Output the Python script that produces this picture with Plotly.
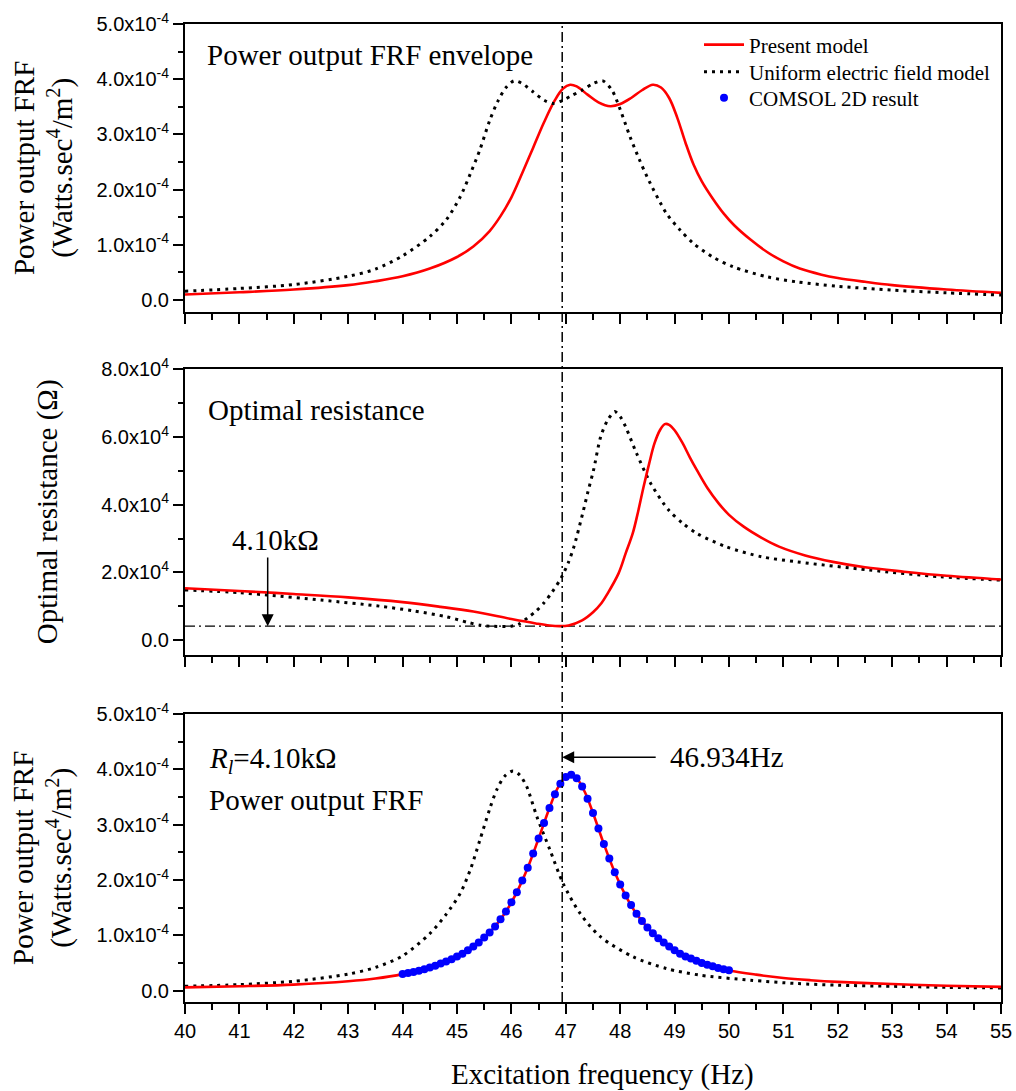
import plotly.graph_objects as go

# ---------------- data ----------------
# Top panel: power output FRF envelope, values in units of 1e-4 W.s^4/m^2
env_present_f = [40, 41, 42, 43, 43.5, 44, 44.5, 45, 45.3, 45.6, 45.8, 46.0, 46.2, 46.4, 46.6, 46.8, 46.95,
                 47.08, 47.2, 47.4, 47.6, 47.82, 48.0, 48.2, 48.4, 48.6, 48.75, 48.9, 49.05, 49.2, 49.35,
                 49.5, 49.7, 49.9, 50.1, 50.4, 50.7, 51.0, 51.3, 51.7, 52, 52.5, 53, 54, 55]
env_present_p = [0.10, 0.14, 0.19, 0.27, 0.34, 0.43, 0.57, 0.78, 0.97, 1.25, 1.52, 1.86, 2.30, 2.76, 3.22, 3.62, 3.83,
                 3.90, 3.87, 3.72, 3.58, 3.51, 3.55, 3.66, 3.80, 3.90, 3.85, 3.66, 3.30, 2.85, 2.45,
                 2.15, 1.84, 1.57, 1.35, 1.09, 0.87, 0.70, 0.57, 0.46, 0.40, 0.33, 0.27, 0.19, 0.13]
env_uniform_f = [40, 41, 42, 43, 43.5, 44, 44.5, 44.8, 45.06, 45.25, 45.42, 45.6, 45.75, 45.9, 46.05, 46.2,
                 46.4, 46.6, 46.77, 46.95, 47.1, 47.3, 47.5, 47.68, 47.85, 48.0, 48.18, 48.35, 48.5, 48.85,
                 49.1, 49.34, 49.7, 50.08, 50.7, 51.24, 52, 53, 54, 55]
env_uniform_p = [0.16, 0.21, 0.28, 0.43, 0.56, 0.80, 1.15, 1.45, 1.87, 2.30, 2.72, 3.25, 3.60, 3.85, 3.97, 3.92,
                 3.77, 3.62, 3.56, 3.62, 3.70, 3.80, 3.92, 3.97, 3.80, 3.45, 2.96, 2.55, 2.22, 1.57,
                 1.27, 1.03, 0.78, 0.60, 0.42, 0.33, 0.25, 0.18, 0.13, 0.09]

# Middle panel: optimal resistance (Ohm), values in units of 1e4 Ohm
ropt_present_f = [40, 41, 42, 43, 44, 44.7, 45.3, 46.0, 46.45, 46.7, 46.89, 47.05, 47.3, 47.5, 47.65, 47.77,
                  47.97, 48.1, 48.23, 48.33, 48.43, 48.53, 48.63, 48.73, 48.82, 48.9, 49.0, 49.15, 49.28,
                  49.41, 49.6, 49.81, 50.0, 50.27, 50.6, 50.92, 51.4, 51.91, 52.5, 53.22, 54, 55]
ropt_present_r = [1.53, 1.45, 1.36, 1.26, 1.12, 0.98, 0.84, 0.62, 0.49, 0.43, 0.41, 0.43, 0.58, 0.82, 1.08, 1.38,
                  1.97, 2.56, 3.15, 3.80, 4.53, 5.20, 5.81, 6.20, 6.38, 6.36, 6.20, 5.81, 5.40,
                  5.02, 4.50, 4.04, 3.70, 3.35, 3.02, 2.76, 2.50, 2.31, 2.15, 2.02, 1.90, 1.79]
ropt_uniform_f = [40, 41, 41.5, 42.5, 43.58, 44.2, 44.8, 45.2, 45.42, 45.6, 46.0, 46.15, 46.3, 46.45, 46.6,
                  46.75, 46.92, 47.05, 47.15, 47.31, 47.41, 47.51, 47.64, 47.77, 47.9, 48.0, 48.1, 48.3,
                  48.56, 48.89, 49.15, 49.41, 49.94, 50.6, 51.25, 52.57, 53.88, 55]
ropt_uniform_r = [1.48, 1.40, 1.33, 1.18, 1.00, 0.86, 0.69, 0.52, 0.44, 0.41, 0.41, 0.48, 0.66, 0.85, 1.10,
                  1.42, 1.85, 2.30, 2.76, 3.74, 4.40, 5.02, 6.00, 6.50, 6.75, 6.60, 6.30, 5.52,
                  4.63, 3.84, 3.45, 3.15, 2.76, 2.46, 2.31, 2.07, 1.87, 1.77]

R_OPT = 4100.0          # optimal load resistance (Ohm)
F_OPT = 46.934          # frequency at which it is optimal (Hz)
opt_line_f = [40, 55]

# Bottom panel: power output FRF at R_l = 4.10 kOhm, units of 1e-4
frf_present_f = [40, 41, 42, 43, 43.5, 44, 44.5, 45, 45.3, 45.6, 45.9, 46.1, 46.3, 46.5, 46.7, 46.85,
                 47.0, 47.1, 47.2, 47.35, 47.5, 47.7, 47.9, 48.1, 48.3, 48.6, 49.0, 49.5, 50.0, 50.5,
                 51, 51.5, 52, 53, 54, 55]
frf_present_p = [0.06, 0.08, 0.11, 0.17, 0.22, 0.30, 0.42, 0.62, 0.80, 1.05, 1.43, 1.78, 2.22, 2.75, 3.30, 3.66,
                 3.86, 3.90, 3.84, 3.59, 3.21, 2.65, 2.14, 1.72, 1.39, 1.04, 0.73, 0.50, 0.37, 0.29,
                 0.23, 0.19, 0.16, 0.12, 0.09, 0.07]
frf_uniform_f = [40, 41, 42, 43, 43.5, 44, 44.5, 44.8, 45.06, 45.25, 45.42, 45.6, 45.73, 45.88, 46.03, 46.15,
                 46.28, 46.47, 46.71, 46.95, 47.26, 47.63, 48.24, 48.85, 49.47, 50.39, 51.24, 52, 53, 54, 55]
frf_uniform_p = [0.08, 0.11, 0.17, 0.30, 0.42, 0.63, 1.03, 1.38, 1.76, 2.20, 2.72, 3.28, 3.63, 3.88, 3.97, 3.90,
                 3.69, 3.14, 2.54, 1.94, 1.40, 0.98, 0.61, 0.40, 0.28, 0.19, 0.13, 0.10, 0.08, 0.06, 0.05]
comsol_f = [44.0, 44.1, 44.2, 44.3, 44.4, 44.5, 44.6, 44.7, 44.8, 44.9,
            45.0, 45.1, 45.2, 45.3, 45.4, 45.5, 45.6, 45.7, 45.8, 45.9,
            46.0, 46.1, 46.2, 46.3, 46.4, 46.5, 46.6, 46.7, 46.8, 46.9,
            47.0, 47.1, 47.2, 47.3, 47.4, 47.5, 47.6, 47.7, 47.8, 47.9,
            48.0, 48.1, 48.2, 48.3, 48.4, 48.5, 48.6, 48.7, 48.8, 48.9,
            49.0, 49.1, 49.2, 49.3, 49.4, 49.5, 49.6, 49.7, 49.8, 49.9, 50.0]
comsol_p = [0.30, 0.32, 0.34, 0.36, 0.39, 0.42, 0.45, 0.49, 0.53, 0.57,
            0.62, 0.67, 0.73, 0.80, 0.87, 0.96, 1.05, 1.16, 1.29, 1.43,
            1.60, 1.78, 1.99, 2.22, 2.48, 2.75, 3.03, 3.30, 3.55, 3.74,
            3.86, 3.90, 3.84, 3.69, 3.47, 3.21, 2.93, 2.65, 2.39, 2.14,
            1.92, 1.72, 1.55, 1.39, 1.26, 1.14, 1.04, 0.95, 0.87, 0.80,
            0.73, 0.67, 0.62, 0.58, 0.54, 0.50, 0.47, 0.44, 0.41, 0.39, 0.37]

x_ticks = list(range(40, 56))
pow_ticks = [0, 1e-4, 2e-4, 3e-4, 4e-4, 5e-4]
pow_ticktext = ["0.0", "1.0x10<sup>-4</sup>", "2.0x10<sup>-4</sup>", "3.0x10<sup>-4</sup>",
                "4.0x10<sup>-4</sup>", "5.0x10<sup>-4</sup>"]
res_ticks = [0, 2e4, 4e4, 6e4, 8e4]
res_ticktext = ["0.0", "2.0x10<sup>4</sup>", "4.0x10<sup>4</sup>", "6.0x10<sup>4</sup>", "8.0x10<sup>4</sup>"]

# ---------------- figure ----------------
SERIF = "Liberation Serif"
SANS = "Liberation Sans"
RED = "#FF0000"
BLUE = "#0000FF"
DOT = "3px,5px"

e4 = lambda v: [x * 1e-4 for x in v]
r4 = lambda v: [x * 1e4 for x in v]

fig = go.Figure()
line_red = dict(color=RED, width=2.6, shape="spline", smoothing=1.0)
line_dot = dict(color="black", width=3, dash=DOT, shape="spline", smoothing=0.8)

fig.add_trace(go.Scatter(x=env_present_f, y=e4(env_present_p), mode="lines", line=line_red,
                         name="Present model", legend="legend", xaxis="x", yaxis="y"))
fig.add_trace(go.Scatter(x=env_uniform_f, y=e4(env_uniform_p), mode="lines", line=line_dot,
                         name="Uniform electric field model", legend="legend2", xaxis="x", yaxis="y"))

fig.add_trace(go.Scatter(x=opt_line_f, y=[R_OPT, R_OPT], mode="lines",
                         line=dict(color="black", width=1.3, dash="10px,4px,2px,4px"),
                         showlegend=False, xaxis="x2", yaxis="y2"))
fig.add_trace(go.Scatter(x=ropt_uniform_f, y=r4(ropt_uniform_r), mode="lines", line=line_dot,
                         showlegend=False, xaxis="x2", yaxis="y2"))
fig.add_trace(go.Scatter(x=ropt_present_f, y=r4(ropt_present_r), mode="lines", line=line_red,
                         showlegend=False, xaxis="x2", yaxis="y2"))

fig.add_trace(go.Scatter(x=frf_uniform_f, y=e4(frf_uniform_p), mode="lines", line=line_dot,
                         showlegend=False, xaxis="x3", yaxis="y3"))
fig.add_trace(go.Scatter(x=frf_present_f, y=e4(frf_present_p), mode="lines", line=line_red,
                         showlegend=False, xaxis="x3", yaxis="y3"))
fig.add_trace(go.Scatter(x=comsol_f, y=e4(comsol_p), mode="markers",
                         marker=dict(color=BLUE, size=8, line=dict(width=0)),
                         name="COMSOL 2D result", legend="legend3", xaxis="x3", yaxis="y3"))

axis_base = dict(showline=True, linecolor="black", linewidth=2, mirror=True, ticks="outside",
                 ticklen=10, tickwidth=1.5, tickcolor="black", showgrid=False, zeroline=False,
                 tickfont=dict(family=SANS, size=20, color="black"))
xbase = dict(axis_base, range=[40, 55], tickmode="array", tickvals=x_ticks,
             minor=dict(dtick=0.5, tick0=40, ticks="outside", ticklen=6, tickcolor="black", tickwidth=1.5),
             domain=[0, 1], tickfont=dict(family=SANS, size=20, color="black"))

dom_top = [0.7055, 1.0]
dom_mid = [0.3548, 0.6469]
dom_bot = [0.0, 0.2945]

leg_common = dict(xanchor="left", yanchor="middle", font=dict(family=SERIF, size=21, color="black"),
                  bgcolor="rgba(0,0,0,0)", itemwidth=40)
leg_x = (699 - 185) / 816

fig.update_layout(
    width=1016, height=1091,
    margin=dict(l=185, r=15, t=24, b=89, autoexpand=False),
    paper_bgcolor="white", plot_bgcolor="white",
    showlegend=True,
    xaxis=dict(xbase, anchor="y", showticklabels=False),
    xaxis2=dict(xbase, anchor="y2", showticklabels=False),
    xaxis3=dict(xbase, anchor="y3", showticklabels=True),
    yaxis=dict(axis_base, domain=dom_top, range=[-0.217e-4, 5e-4], tickmode="array",
               tickvals=pow_ticks, ticktext=pow_ticktext,
               minor=dict(dtick=0.5e-4, tick0=0, ticks="outside", ticklen=5, tickcolor="black", tickwidth=1.5)),
    yaxis2=dict(axis_base, domain=dom_mid, range=[-4430, 8e4], tickmode="array",
                tickvals=res_ticks, ticktext=res_ticktext,
                minor=dict(dtick=1e4, tick0=0, ticks="outside", ticklen=5, tickcolor="black", tickwidth=1.5)),
    yaxis3=dict(axis_base, domain=dom_bot, range=[-0.204e-4, 5e-4], tickmode="array",
                tickvals=pow_ticks, ticktext=pow_ticktext,
                minor=dict(dtick=0.5e-4, tick0=0, ticks="outside", ticklen=5, tickcolor="black", tickwidth=1.5)),
    legend=dict(leg_common, x=leg_x, y=(1002 - 45) / 978),
    legend2=dict(leg_common, x=leg_x, y=(1002 - 72) / 978),
    legend3=dict(leg_common, x=leg_x, y=(1002 - 98) / 978),
)

# vertical dash-dot line at the optimal frequency through all panels
fig.add_shape(type="line", xref="x3", yref="paper", x0=F_OPT, x1=F_OPT, y0=0, y1=1,
              line=dict(color="black", width=1.5, dash="10px,4px,2px,4px"), layer="above")

ann_font = dict(family=SERIF, size=29, color="black")
anns = [
    dict(text="Power output FRF envelope", xref="paper", yref="paper", x=(205 - 185) / 816,
         y=(1002 - 55) / 978, xanchor="left", yanchor="middle", showarrow=False, font=ann_font),
    dict(text="Optimal resistance", xref="paper", yref="paper", x=(206 - 185) / 816,
         y=(1002 - 410) / 978, xanchor="left", yanchor="middle", showarrow=False, font=ann_font),
    dict(text="4.10kΩ", xref="paper", yref="paper", x=(275 - 185) / 816,
         y=(1002 - 540) / 978, xanchor="center", yanchor="middle", showarrow=False, font=ann_font),
    dict(text="", xref="x2", yref="y2", x=41.52, y=R_OPT, axref="x2", ayref="y2", ax=41.52, ay=2.48e4,
         showarrow=True, arrowhead=2, arrowsize=1.6, arrowwidth=1.5, arrowcolor="black"),
    dict(text="<i>R</i><sub><i>l</i></sub>=4.10kΩ", xref="paper", yref="paper", x=(207 - 185) / 816,
         y=(1002 - 760) / 978, xanchor="left", yanchor="middle", showarrow=False, font=ann_font),
    dict(text="Power output FRF", xref="paper", yref="paper", x=(207 - 185) / 816,
         y=(1002 - 800) / 978, xanchor="left", yanchor="middle", showarrow=False, font=ann_font),
    dict(text="", xref="x3", yref="y3", x=F_OPT, y=4.22e-4, axref="x3", ayref="y3", ax=48.68, ay=4.22e-4,
         showarrow=True, arrowhead=2, arrowsize=1.6, arrowwidth=1.5, arrowcolor="black"),
    dict(text="46.934Hz", xref="paper", yref="paper", x=(668 - 185) / 816,
         y=(1002 - 757) / 978, xanchor="left", yanchor="middle", showarrow=False, font=ann_font),
    # axis titles
    dict(text="Power output FRF<br>(Watts.sec<sup>4</sup>/m<sup>2</sup>)", xref="paper", yref="paper",
         x=(43 - 185) / 816, y=sum(dom_top) / 2, textangle=-90, xanchor="center", yanchor="middle",
         showarrow=False, font=ann_font),
    dict(text="Optimal resistance (Ω)", xref="paper", yref="paper",
         x=(47 - 185) / 816, y=sum(dom_mid) / 2, textangle=-90, xanchor="center", yanchor="middle",
         showarrow=False, font=ann_font),
    dict(text="Power output FRF<br>(Watts.sec<sup>4</sup>/m<sup>2</sup>)", xref="paper", yref="paper",
         x=(43 - 185) / 816, y=sum(dom_bot) / 2, textangle=-90, xanchor="center", yanchor="middle",
         showarrow=False, font=ann_font),
    dict(text="Excitation frequency (Hz)", xref="paper", yref="paper",
         x=(602 - 185) / 816, y=(1002 - 1074) / 978, xanchor="center", yanchor="middle",
         showarrow=False, font=ann_font),
]
fig.update_layout(annotations=anns)

fig.write_html("out.html")
